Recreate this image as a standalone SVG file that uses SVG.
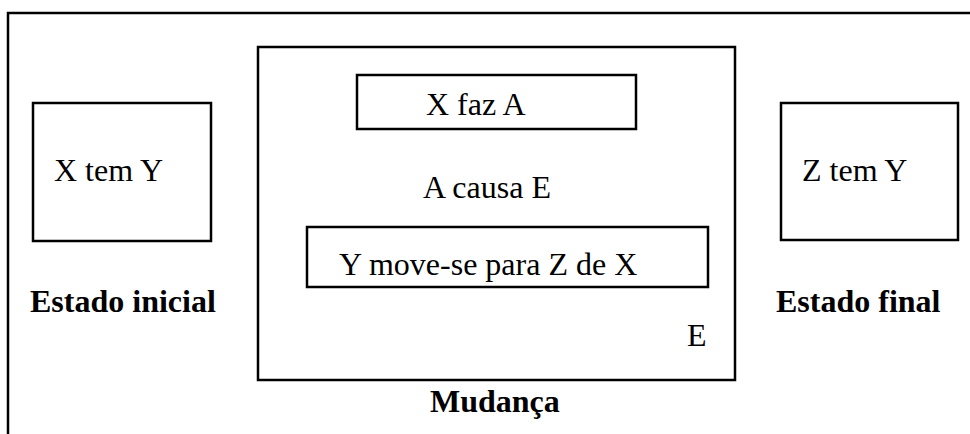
<svg xmlns="http://www.w3.org/2000/svg" width="970" height="434" viewBox="0 0 970 434">
<style>
.b{fill:#fff;stroke:#000;stroke-width:2.5}
text{font-family:'Liberation Serif','Times New Roman',serif;font-size:32px;fill:#000}
.h{font-weight:bold}
</style>
<rect width="970" height="434" fill="#fff"/>
<g id="frame"><path d="M8,434 V13 H970" fill="none" stroke="#000" stroke-width="2.5"/></g>
<g id="estado-inicial">
<rect class="b" x="33" y="103" width="178" height="138"/>
<text x="54" y="181">X tem Y</text>
<text class="h" x="30" y="312">Estado inicial</text>
</g>
<g id="mudanca">
<rect class="b" x="258" y="47" width="477" height="333"/>
<text x="423" y="198">A causa E</text>
<text x="687" y="346">E</text>
<text class="h" x="430" y="412">Mudança</text>
</g>
<g id="x-faz-a">
<rect class="b" x="357" y="75" width="279" height="54"/>
<text x="426" y="115">X faz A</text>
</g>
<g id="y-move">
<rect class="b" x="307" y="227" width="401" height="60"/>
<text x="339" y="275">Y move-se para Z de X</text>
</g>
<g id="estado-final">
<rect class="b" x="781" y="103" width="177" height="137"/>
<text x="802" y="181">Z tem Y</text>
<text class="h" x="776" y="312">Estado final</text>
</g>
<g id="connectors"></g>
</svg>
